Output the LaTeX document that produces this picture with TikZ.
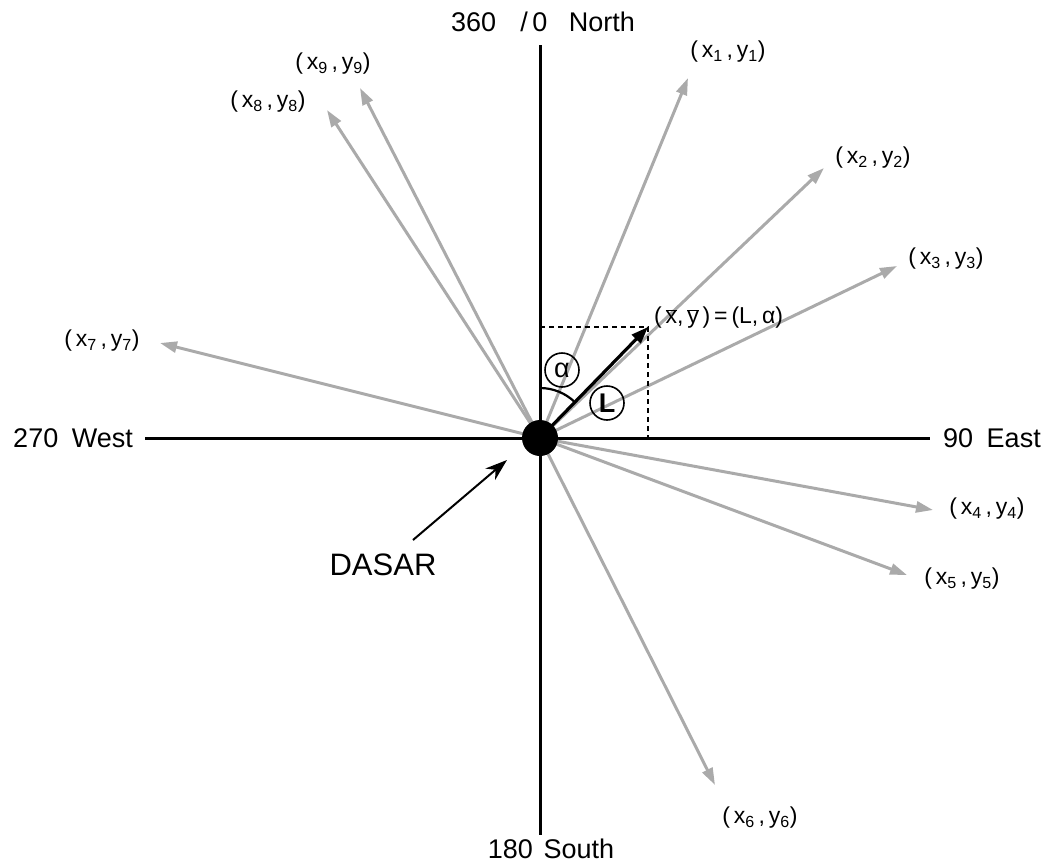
\documentclass[tikz,border=0pt]{standalone}
\usepackage{fontspec}
\setmainfont{Liberation Sans}
\usetikzlibrary{arrows.meta}
\definecolor{ray}{RGB}{170,170,170}
\tikzset{
  axis/.style={line width=3pt,black},
  rayline/.style={line width=3pt,ray,-{Triangle[length=17pt,width=11pt]}},
  ptlabel/.style={font=\fontsize{23}{26}\selectfont,inner sep=0pt},
  dirlabel/.style={font=\fontsize{27}{30}\selectfont,inner sep=0pt},
  circlab/.style={draw,circle,line width=1.6pt,minimum size=34pt,inner sep=0pt,font=\fontsize{27}{29}\selectfont},
}
\newcommand{\pt}[1]{(\,x\textsubscript{#1}\,,\,y\textsubscript{#1})}
\begin{document}
\begin{tikzpicture}[x=1pt,y=-1pt]
\useasboundingbox (0,0) rectangle (1053,865);
% axes
\coordinate (N) at (540,45);
\coordinate (S) at (540,835);
\coordinate (W) at (145,438);
\coordinate (E) at (930,438);
\draw[axis] (N) -- (S);
\draw[axis] (W) -- (E);
\node[dirlabel] (nl) at (543,22) {360\hspace{0.9em}/\,0\hspace{0.8em}North};
\node[dirlabel] (sl) at (551,849) {180\hspace{0.4em}South};
\node[dirlabel,anchor=east] (wl) at (133,438) {270\hspace{0.5em}West};
\node[dirlabel,anchor=west] (el) at (943,438) {90\hspace{0.5em}East};
% center
\coordinate (O) at (540,438);
% ray tips
\coordinate (t1) at (688,78);
\coordinate (t2) at (824,168);
\coordinate (t3) at (897,266);
\coordinate (t4) at (933,510);
\coordinate (t5) at (907,575);
\coordinate (t6) at (715,785);
\coordinate (t7) at (160,343);
\coordinate (t8) at (327,110);
\coordinate (t9) at (360,88);
\foreach \i in {1,...,9}{\draw[rayline] (O) -- (t\i);}
% labels
\node[ptlabel] (l1) at (728,52) {\pt{1}};
\node[ptlabel] (l2) at (873,158) {\pt{2}};
\node[ptlabel] (l3) at (946,259) {\pt{3}};
\node[ptlabel] (l4) at (987,509) {\pt{4}};
\node[ptlabel] (l5) at (962,579) {\pt{5}};
\node[ptlabel] (l6) at (760,818) {\pt{6}};
\node[ptlabel] (l7) at (102,341) {\pt{7}};
\node[ptlabel] (l8) at (268,102) {\pt{8}};
\node[ptlabel] (l9) at (333,64) {\pt{9}};
% mean vector
\coordinate (M) at (648,327);
\coordinate (My) at (540,327);
\coordinate (Mx) at (648,438);
\draw[line width=1.8pt,dash pattern=on 5pt off 4pt] (My) -- (M) -- (Mx);
\draw[line width=3.2pt,-{Triangle[length=17pt,width=12pt]}] (O) -- (M);
\draw[line width=2.2pt] (540,388) arc[start angle=270,end angle=314.2,radius=50];
\node[circlab] (al) at (562,370) {α};
\node[circlab] (Ll) at (607,403) {\textbf{L}};
\node[ptlabel,anchor=west] (ml) at (654,318) {(\,$\overline{\hbox{x}}$,\,$\overline{\hbox{y}}$\,)\,=\,(L,\,α)};
% dasar
\fill (O) circle (18);
\coordinate (dt) at (413,540);
\node[font=\fontsize{31}{33}\selectfont,inner sep=0pt] (dl) at (383,565) {DASAR};
\draw[line width=2pt,-{Stealth[length=22pt,width=15pt,inset=7pt]}] (dt) -- (507,460);
\end{tikzpicture}
\end{document}
